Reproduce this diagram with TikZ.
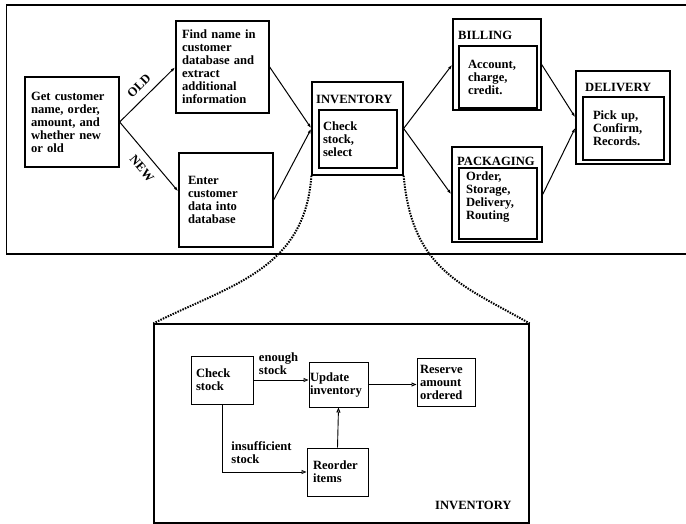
\documentclass[tikz,border=0pt]{standalone}
\usepackage{fontspec}
\setmainfont{Liberation Serif}
\usetikzlibrary{arrows.meta, calc}

\begin{document}
\begin{tikzpicture}[x=1pt, y=-1pt,
    every node/.style={font=\fontsize{12.6}{13}\selectfont\bfseries},
    box/.style={draw, line width=1.3pt, align=left, inner ysep=0pt},
    lbl/.style={inner sep=0pt, anchor=west},
    arr/.style={-{Latex[length=5pt, width=3pt]}, line width=1pt},
    arrb/.style={-{Triangle[open, length=5pt, width=4pt]}, line width=0.9pt},
    zoomline/.style={line width=2pt, dash pattern=on 1.5pt off 1.2pt}]

\useasboundingbox (0,0) rectangle (686,524);

% Upper frame (open on the right)
\draw[line width=1.4pt] (686,5) -- (6.7,5) -- (6.7,254) -- (686,254);

% Order entry
\node[box, text width=82pt, inner xsep=6pt, minimum height=90pt] (getcust) at (72,122)
    {Get customer\\name, order,\\amount, and\\whether new\\or old};
\node[box, text width=81pt, inner xsep=6pt, minimum height=92pt] (findname) at (222.5,67)
    {Find name in\\customer\\database and\\extract\\additional\\information};
\node[box, text width=76pt, inner xsep=9pt, minimum height=94pt] (enter) at (226,200)
    {Enter\\customer\\data into\\database};

% Inventory
\node[box, minimum width=91pt, minimum height=93pt] (inv) at (357.5,128.5) {};
\node[lbl] (invlbl) at (316,99) {INVENTORY};
\node[box, text width=70pt, inner xsep=4pt, minimum height=58pt] (invin) at (358,139)
    {Check\\stock,\\select};

% Billing
\node[box, minimum width=88pt, minimum height=91pt] (billing) at (497,64.5) {};
\node[lbl] (billlbl) at (458,35) {BILLING};
\node[box, text width=60pt, inner xsep=9pt, minimum height=62pt] (billin) at (498,77)
    {Account,\\charge,\\credit.};

% Packaging
\node[box, minimum width=90pt, minimum height=95pt] (packaging) at (497,194.5) {};
\node[lbl] (packlbl) at (457,161) {PACKAGING};
\node[box, text width=64pt, inner xsep=7pt, minimum height=71pt, text depth=54pt] (packin) at (498,203.5)
    {Order,\\Storage,\\Delivery,\\Routing};

% Delivery
\node[box, minimum width=94pt, minimum height=93pt] (delivery) at (623,117.5) {};
\node[lbl] (delilbl) at (585,87) {DELIVERY};
\node[box, text width=61pt, inner xsep=10pt, minimum height=63pt] (deliin) at (623.5,128.5)
    {Pick up,\\Confirm,\\Records.};

% Flow arrows
\draw[arr] (getcust.east) -- node[pos=0.5, sloped, above=4pt] {OLD} (findname.west);
\draw[arr] (getcust.east) -- node[pos=0.55, sloped, below=5pt] {NEW} (enter.170);
\draw[arr] (findname.east) -- (inv.west);
\draw[arr] (enter.east) -- (inv.west);
\draw[arr] (inv.east) -- (billing.west);
\draw[arr] (inv.east) -- (packaging.west);
\draw[arr] (billing.east) -- (delivery.west);
\draw[arr] (packaging.east) -- (delivery.192);

% Detail of inventory
\node[draw, line width=1.2pt, minimum width=375pt, minimum height=199pt] (detail) at (341.5,423.5) {};
\node[lbl] (detlbl) at (435,505) {INVENTORY};

\draw[zoomline] (inv.south west) .. controls (305,270) and (230,285) .. (detail.north west);
\draw[zoomline] (inv.south east) .. controls (412,270) and (462,285) .. (detail.north east);

\node[box, line width=1pt, text width=52pt, inner xsep=5pt, minimum height=48pt] (checkst) at (222,380)
    {Check\\stock};
\node[box, line width=1pt, text width=57pt, inner xsep=1pt, minimum height=45pt] (update) at (338.5,384.5)
    {Update\\inventory};
\node[box, line width=1pt, text width=52pt, inner xsep=3pt, minimum height=48pt] (reserve) at (446,382)
    {Reserve\\amount\\ordered};
\node[box, line width=1pt, text width=49pt, inner xsep=6pt, minimum height=48pt] (reorder) at (337.5,472)
    {Reorder\\items};

\draw[arrb] (checkst.east) -- node[pos=0, anchor=south west, align=left, xshift=5pt, yshift=5pt, inner sep=0pt]
    {enough\\stock} (update.west |- checkst.east);
\draw[arrb] (update.east) -- (reserve.west |- update.east);
\draw[arrb] (checkst.south) |- node[pos=0.5, anchor=south west, align=left, xshift=9pt, yshift=8pt, inner sep=0pt]
    {insufficient\\stock} (reorder.west);
\draw[arrb] (reorder.north) -- (update.south);

\end{tikzpicture}
\end{document}
